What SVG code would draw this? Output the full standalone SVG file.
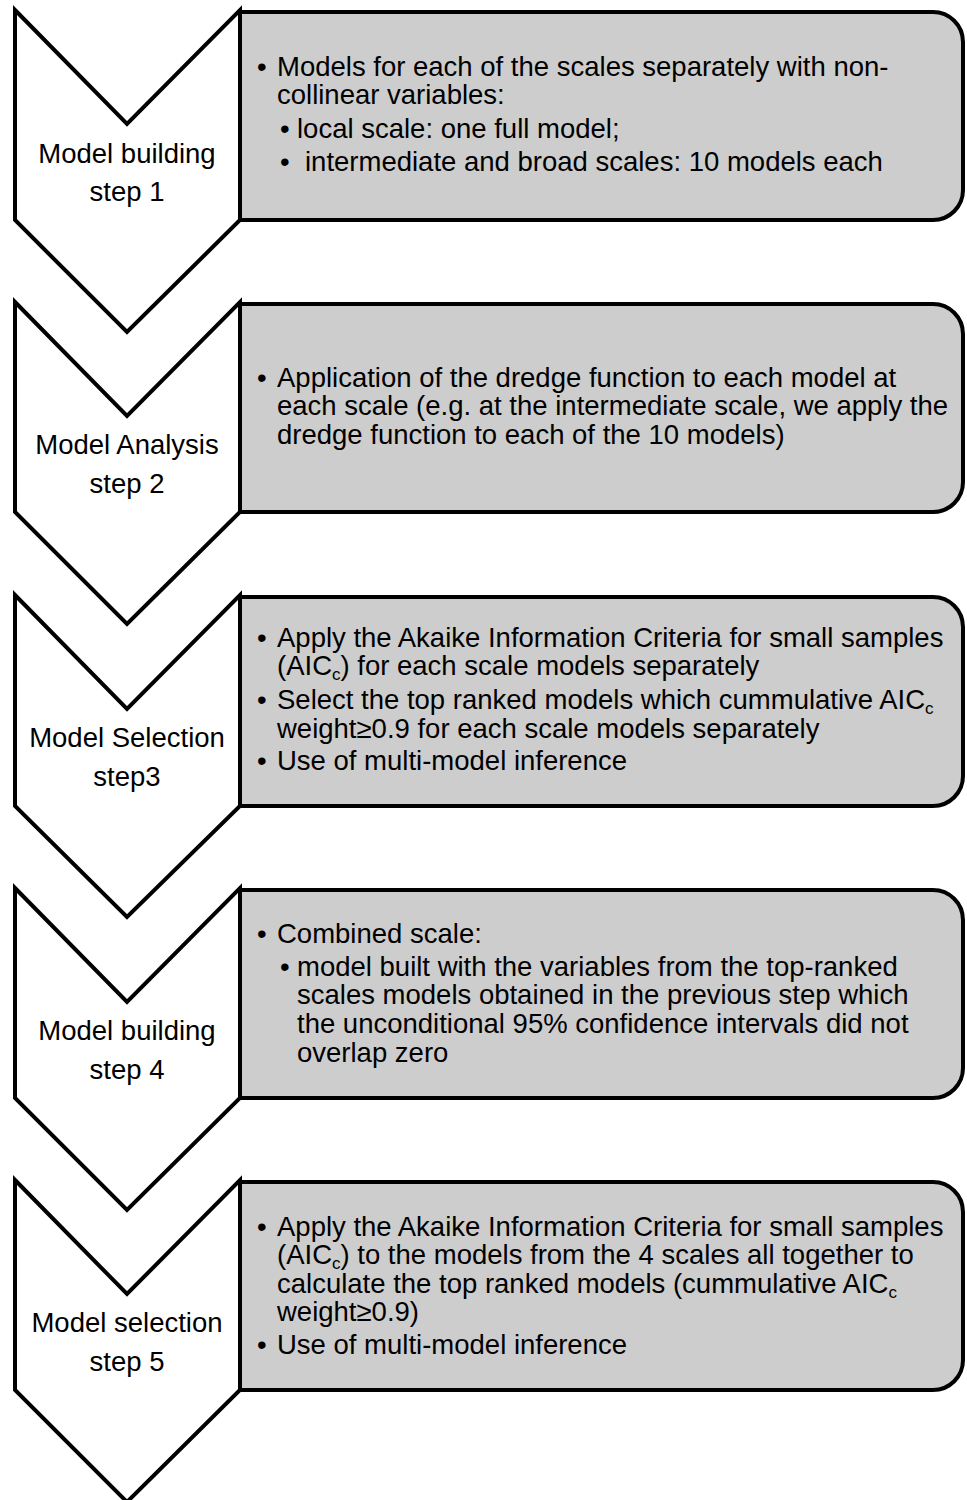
<svg xmlns="http://www.w3.org/2000/svg" width="967" height="1500" viewBox="0 0 967 1500">
<style>
.chev{fill:#ffffff;stroke:#000;stroke-width:4;stroke-linejoin:miter}
.box{fill:#cdcdcd;stroke:#000;stroke-width:4}
.lab{font-family:"Liberation Sans",Arial,sans-serif;font-size:27.5px;fill:#000;text-anchor:middle}
.txt{font-family:"Liberation Sans",Arial,sans-serif;font-size:27.5px;fill:#000}
.sub{font-size:17px}
</style>
<rect width="967" height="1500" fill="#ffffff"/>
<g id="connectors"/>

<g id="step1">
<path class="box" d="M240,12 H933 A30,30 0 0 1 963,42 V190 A30,30 0 0 1 933,220 H240 Z"/>
<polygon class="chev" points="15,10 127,124 240,10 240,220 127,332 15,220"/>
<text class="lab" x="127" y="163">Model building</text>
<text class="lab" x="127" y="201">step 1</text>
<text class="txt" x="257" y="76">•</text>
<text class="txt" x="277" y="76">Models for each of the scales separately with non-</text>
<text class="txt" x="277" y="104">collinear variables:</text>
<text class="txt" x="280" y="138">•</text>
<text class="txt" x="297" y="138">local scale: one full model;</text>
<text class="txt" x="280" y="171">•</text>
<text class="txt" x="305" y="171">intermediate and broad scales: 10 models each</text>
</g>

<g id="step2">
<path class="box" d="M240,304 H933 A30,30 0 0 1 963,334 V482 A30,30 0 0 1 933,512 H240 Z"/>
<polygon class="chev" points="15,302 127,416 240,302 240,512 127,624 15,512"/>
<text class="lab" x="127" y="454">Model Analysis</text>
<text class="lab" x="127" y="493">step 2</text>
<text class="txt" x="257" y="387">•</text>
<text class="txt" x="277" y="387">Application of the dredge function to each model at</text>
<text class="txt" x="277" y="415">each scale (e.g. at the intermediate scale, we apply the</text>
<text class="txt" x="277" y="444">dredge function to each of the 10 models)</text>
</g>

<g id="step3">
<path class="box" d="M240,597 H933 A30,30 0 0 1 963,627 V776 A30,30 0 0 1 933,806 H240 Z"/>
<polygon class="chev" points="15,595 127,709 240,595 240,806 127,917 15,806"/>
<text class="lab" x="127" y="747">Model Selection</text>
<text class="lab" x="127" y="786">step3</text>
<text class="txt" x="257" y="647">•</text>
<text class="txt" x="277" y="647">Apply the Akaike Information Criteria for small samples</text>
<text class="txt" x="277" y="675">(AIC<tspan class="sub" dy="5">c</tspan><tspan dy="-5">) for each scale models separately</tspan></text>
<text class="txt" x="257" y="709">•</text>
<text class="txt" x="277" y="709">Select the top ranked models which cummulative AIC<tspan class="sub" dy="5">c</tspan></text>
<text class="txt" x="277" y="738">weight≥0.9 for each scale models separately</text>
<text class="txt" x="257" y="770">•</text>
<text class="txt" x="277" y="770">Use of multi-model inference</text>
</g>

<g id="step4">
<path class="box" d="M240,890 H933 A30,30 0 0 1 963,920 V1068 A30,30 0 0 1 933,1098 H240 Z"/>
<polygon class="chev" points="15,888 127,1002 240,888 240,1098 127,1210 15,1098"/>
<text class="lab" x="127" y="1040">Model building</text>
<text class="lab" x="127" y="1079">step 4</text>
<text class="txt" x="257" y="943">•</text>
<text class="txt" x="277" y="943">Combined scale:</text>
<text class="txt" x="280" y="976">•</text>
<text class="txt" x="297" y="976">model built with the variables from the top-ranked</text>
<text class="txt" x="297" y="1004">scales models obtained in the previous step which</text>
<text class="txt" x="297" y="1033">the unconditional 95% confidence intervals did not</text>
<text class="txt" x="297" y="1062">overlap zero</text>
</g>

<g id="step5">
<path class="box" d="M240,1182 H933 A30,30 0 0 1 963,1212 V1360 A30,30 0 0 1 933,1390 H240 Z"/>
<polygon class="chev" points="15,1180 127,1294 240,1180 240,1390 127,1502 15,1390"/>
<text class="lab" x="127" y="1332">Model selection</text>
<text class="lab" x="127" y="1371">step 5</text>
<text class="txt" x="257" y="1236">•</text>
<text class="txt" x="277" y="1236">Apply the Akaike Information Criteria for small samples</text>
<text class="txt" x="277" y="1264">(AIC<tspan class="sub" dy="5">c</tspan><tspan dy="-5">) to the models from the 4 scales all together to</tspan></text>
<text class="txt" x="277" y="1293">calculate the top ranked models (cummulative AIC<tspan class="sub" dy="5">c</tspan></text>
<text class="txt" x="277" y="1321">weight≥0.9)</text>
<text class="txt" x="257" y="1354">•</text>
<text class="txt" x="277" y="1354">Use of multi-model inference</text>
</g>
</svg>
